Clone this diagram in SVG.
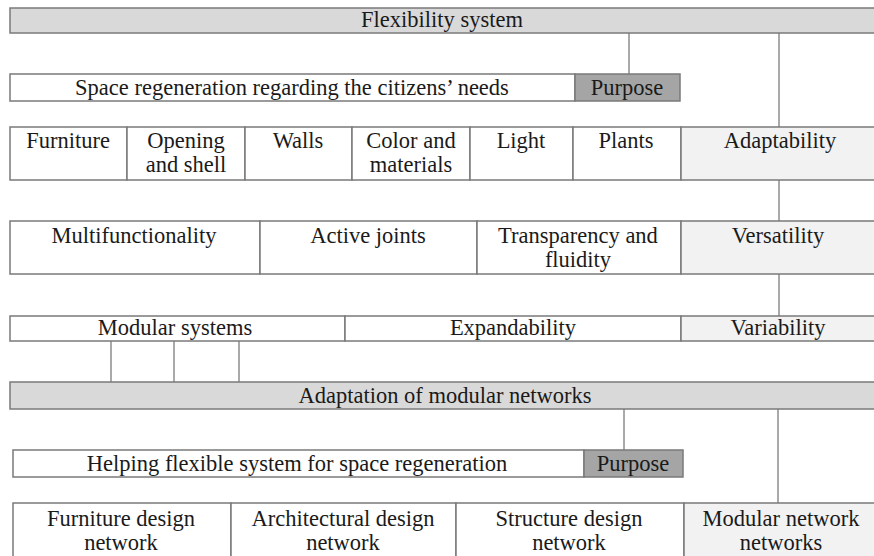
<svg xmlns="http://www.w3.org/2000/svg" width="874" height="556" viewBox="0 0 874 556">
  <style>
    .box { stroke: #7a7a7a; stroke-width: 1.5; }
    .white { fill: #ffffff; }
    .band { fill: #d9d9d9; }
    .purpose { fill: #a5a5a5; }
    .aspect { fill: #f2f2f2; }
    .link { stroke: #555555; stroke-width: 1; fill: none; }
    text { font-family: "Liberation Serif", "Times New Roman", serif; font-size: 22.5px; fill: #1a1a1a; text-anchor: middle; }
  </style>
  <rect width="874" height="556" fill="#ffffff"/>

  <!-- connectors -->
  <g id="connectors">
    <line class="link" x1="629" y1="33" x2="629" y2="74"/>
    <line class="link" x1="779" y1="33" x2="779" y2="127"/>
    <line class="link" x1="779" y1="180" x2="779" y2="221"/>
    <line class="link" x1="779" y1="274" x2="779" y2="316"/>
    <line class="link" x1="111" y1="341" x2="111" y2="382"/>
    <line class="link" x1="174" y1="341" x2="174" y2="382"/>
    <line class="link" x1="239" y1="341" x2="239" y2="382"/>
    <line class="link" x1="624" y1="409" x2="624" y2="450"/>
    <line class="link" x1="778" y1="409" x2="778" y2="503"/>
  </g>

  <!-- level 1 -->
  <g id="flexibility-system">
    <rect class="box band" x="10" y="8" width="880" height="25"/>
    <text x="442" y="27">Flexibility system</text>
  </g>
  <g id="purpose-1">
    <rect class="box white" x="10" y="74" width="565" height="27"/>
    <text x="292" y="95">Space regeneration regarding the citizens’ needs</text>
    <rect class="box purpose" x="575" y="74" width="105" height="27"/>
    <text x="627" y="95">Purpose</text>
  </g>

  <!-- adaptability row -->
  <g id="adaptability">
    <rect class="box white" x="10" y="127" width="117" height="53"/>
    <rect class="box white" x="127" y="127" width="118" height="53"/>
    <rect class="box white" x="245" y="127" width="107" height="53"/>
    <rect class="box white" x="352" y="127" width="118" height="53"/>
    <rect class="box white" x="470" y="127" width="103" height="53"/>
    <rect class="box white" x="573" y="127" width="108" height="53"/>
    <rect class="box aspect" x="681" y="127" width="210" height="53"/>
    <text x="68" y="148">Furniture</text>
    <text x="186" y="148">Opening</text>
    <text x="186" y="172">and shell</text>
    <text x="298" y="148">Walls</text>
    <text x="411" y="148">Color and</text>
    <text x="411" y="172">materials</text>
    <text x="521" y="148">Light</text>
    <text x="626" y="148">Plants</text>
    <text x="780" y="148">Adaptability</text>
  </g>

  <!-- versatility row -->
  <g id="versatility">
    <rect class="box white" x="10" y="221" width="250" height="53"/>
    <rect class="box white" x="260" y="221" width="217" height="53"/>
    <rect class="box white" x="477" y="221" width="204" height="53"/>
    <rect class="box aspect" x="681" y="221" width="210" height="53"/>
    <text x="134" y="243">Multifunctionality</text>
    <text x="368" y="243">Active joints</text>
    <text x="578" y="243">Transparency and</text>
    <text x="578" y="267">fluidity</text>
    <text x="778" y="243">Versatility</text>
  </g>

  <!-- variability row -->
  <g id="variability">
    <rect class="box white" x="10" y="316" width="335" height="25"/>
    <rect class="box white" x="345" y="316" width="336" height="25"/>
    <rect class="box aspect" x="681" y="316" width="210" height="25"/>
    <text x="175" y="335">Modular systems</text>
    <text x="513" y="335">Expandability</text>
    <text x="778" y="335">Variability</text>
  </g>

  <!-- level 2 -->
  <g id="modular-networks">
    <rect class="box band" x="10" y="382" width="880" height="27"/>
    <text x="445" y="403">Adaptation of modular networks</text>
  </g>
  <g id="purpose-2">
    <rect class="box white" x="13" y="450" width="571" height="27"/>
    <text x="297" y="471">Helping flexible system for space regeneration</text>
    <rect class="box purpose" x="584" y="450" width="99" height="27"/>
    <text x="633" y="471">Purpose</text>
  </g>
  <g id="design-networks">
    <rect class="box white" x="13" y="503" width="218" height="70"/>
    <rect class="box white" x="231" y="503" width="225" height="70"/>
    <rect class="box white" x="456" y="503" width="228" height="70"/>
    <rect class="box aspect" x="684" y="503" width="210" height="70"/>
    <text x="121" y="526">Furniture design</text>
    <text x="121" y="550">network</text>
    <text x="343" y="526">Architectural design</text>
    <text x="343" y="550">network</text>
    <text x="569" y="526">Structure design</text>
    <text x="569" y="550">network</text>
    <text x="781" y="526">Modular network</text>
    <text x="781" y="550">networks</text>
  </g>
</svg>
